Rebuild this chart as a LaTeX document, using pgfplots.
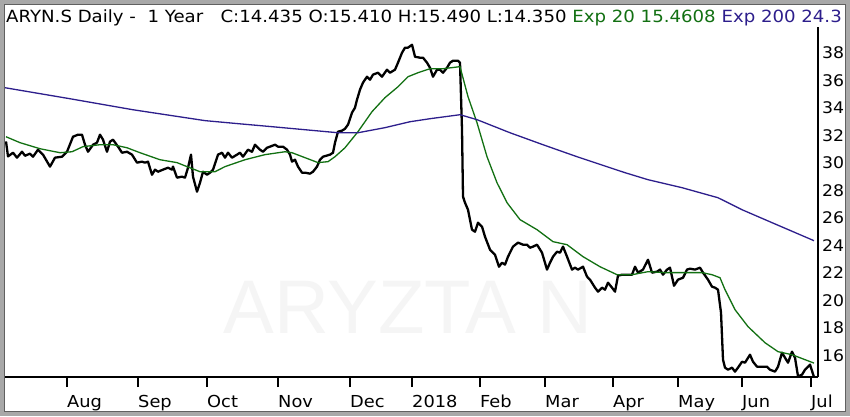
\documentclass[border=0pt]{standalone}
\usepackage{fontspec}
\setmainfont{DejaVu Sans}[FakeStretch=1.08]
\newfontfamily\wmfont{Liberation Sans}
\usepackage{pgfplots}
\pgfplotsset{compat=1.18}
\definecolor{emagreen}{RGB}{18,112,18}
\definecolor{emapurple}{RGB}{45,30,140}
\definecolor{framegray}{RGB}{168,168,168}
\definecolor{wm}{RGB}{245,245,245}
\begin{document}
\begin{tikzpicture}
\useasboundingbox (0,0) rectangle (850pt,416pt);
\fill[white] (0,0) rectangle (850pt,416pt);
\node[anchor=center, font=\wmfont\fontsize{76}{80}\selectfont, text=wm, inner sep=0pt] at (408pt,108.5pt) {ARYZTA N};
\begin{axis}[
  at={(5pt,39pt)}, anchor=south west,
  scale only axis, width=813pt, height=350pt,
  xmin=5, xmax=818, ymin=14.45, ymax=39.87,
  axis x line*=bottom, axis y line*=right,
  axis line style={line width=1.8pt, black},
  xtick={67,138,207,278,350,412,480,545,613,678,742,811},
  xticklabels={Aug,Sep,Oct,Nov,Dec,2018,Feb,Mar,Apr,May,Jun,Jul},
  xtick align=outside,
  major tick length=10pt,
  xtick style={line width=1.6pt, black},
  x tick label style={anchor=north west, inner sep=0pt, yshift=-8pt, font=\fontsize{16.5}{17}\selectfont},
  ytick={16,18,...,38},
  ytick style={draw=none},
  y tick label style={anchor=west, inner sep=0pt, xshift=4pt, font=\fontsize{16}{17}\selectfont},
  /pgf/number format/assume math mode=true,
  tick label style={black},
]
\addplot[black, line width=2.3pt, line join=round] coordinates {
(6,31.56) (8,30.47) (13,30.74) (17,30.38) (22,30.81) (25,30.52) (30,30.67) (33,30.45) (38,30.96) (43,30.60)
(50,29.73) (55,30.38) (62,30.45) (67,30.81) (73,31.90) (78,32.05) (82,32.05) (85,31.32) (88,30.81) (93,31.32)
(97,31.47) (100,32.05) (103,31.69) (107,30.81) (110,31.54) (113,31.69) (118,31.18) (122,30.74) (127,30.81) (132,30.60)
(137,30.02) (142,30.09) (145,30.02) (148,30.09) (152,29.14) (155,29.51) (158,29.36) (163,29.51) (168,29.65) (172,29.51)
(173,29.73) (177,28.93) (182,29.00) (185,28.93) (188,29.65) (191,30.60) (193,29.00) (197,27.91) (200,28.56) (203,29.36)
(207,29.14) (210,29.29) (213,29.51) (218,30.60) (222,30.74) (225,30.38) (228,30.74) (232,30.38) (237,30.60) (240,30.74)
(243,30.45) (248,30.96) (252,30.81) (255,31.32) (260,30.96) (263,30.81) (267,31.10) (270,31.18) (275,31.32) (278,31.18)
(283,31.18) (287,30.96) (290,30.60) (292,30.09) (295,30.23) (298,29.73) (302,29.29) (305,29.29) (310,29.22) (313,29.36)
(317,29.73) (320,30.23) (323,30.45) (330,30.60) (333,30.74) (335,31.47) (338,32.27) (342,32.34) (345,32.48) (348,32.78)
(352,33.65) (355,34.01) (357,34.59) (360,35.32) (363,35.83) (367,36.26) (370,36.04) (373,36.41) (378,36.55) (382,36.26)
(387,36.77) (390,36.55) (395,36.77) (398,37.28) (402,38.00) (405,38.37) (408,38.37) (412,38.58) (415,37.71) (420,37.64)
(423,37.64) (427,37.28) (430,36.91) (433,36.26) (437,36.77) (440,36.77) (443,36.55) (447,36.91) (450,37.28) (453,37.42)
(458,37.42) (460,37.28) (462,32.41) (463,27.55) (465,27.11) (468,26.60) (472,25.15) (475,25.00) (478,25.66) (482,25.37)
(485,24.64) (490,23.70) (495,23.33) (499,22.46) (502,22.75) (505,22.61) (508,23.19) (513,23.92) (518,24.21) (523,24.06)
(527,24.06) (530,23.84) (533,23.92) (537,24.06) (542,23.48) (547,22.25) (550,22.75) (553,23.19) (557,23.55) (560,23.48)
(563,23.92) (567,23.19) (572,22.25) (575,22.39) (578,22.25) (583,22.46) (587,21.74) (590,21.52) (595,20.94) (598,20.65)
(602,20.94) (605,20.79) (608,21.30) (612,20.94) (615,20.65) (618,21.81) (622,21.88) (632,21.88) (635,22.46) (638,22.03)
(643,22.25) (648,22.97) (652,22.03) (657,22.10) (660,22.25) (663,21.88) (667,22.25) (670,22.39) (674,21.08) (678,21.52)
(683,21.66) (687,22.25) (690,22.32) (695,22.25) (700,22.39) (703,22.03) (708,21.52) (712,21.01) (715,20.94) (718,20.79)
(721,19.12) (723,15.71) (725,15.13) (728,14.98) (732,15.13) (735,14.84) (738,15.13) (742,15.56) (745,15.49) (750,16.07)
(753,15.56) (757,15.20) (762,15.20) (767,15.20) (770,14.98) (775,14.84) (778,15.20) (782,16.22) (785,15.85) (788,15.49)
(792,16.29) (795,15.85) (798,14.50) (802,14.62) (805,14.98) (810,15.35) (814,14.44)
};
\addplot[emagreen, line width=1.3pt] coordinates {
(6,31.90) (20,31.47) (40,31.03) (60,30.74) (72,30.81) (83,31.18) (100,31.32) (113,31.32) (127,31.10) (140,30.74)
(160,30.23) (177,30.02) (187,29.73) (200,29.36) (215,29.36) (225,29.73) (245,30.23) (265,30.60) (285,30.81) (292,30.74)
(305,30.38) (318,30.02) (328,30.09) (335,30.45) (345,31.10) (358,32.27) (372,33.72) (385,34.74) (398,35.53) (408,36.26)
(418,36.55) (430,36.84) (443,36.84) (460,36.99) (468,34.81) (477,32.92) (487,30.45) (497,28.56) (507,27.11) (520,25.88)
(537,25.15) (553,24.28) (567,24.06) (583,23.19) (600,22.46) (617,21.88) (632,21.88) (648,22.10) (665,22.03) (682,22.03)
(702,22.03) (712,21.88) (720,21.66) (725,20.79) (735,19.34) (748,18.11) (765,16.94) (778,16.29) (792,16.07) (805,15.71)
(814,15.46)
};
\addplot[emapurple, line width=1.3pt] coordinates {
(5,35.46) (70,34.66) (133,33.86) (205,33.07) (238,32.85) (272,32.63) (305,32.41) (338,32.19) (358,32.19) (385,32.56)
(410,32.99) (430,33.21) (460,33.50) (477,33.14) (510,32.19) (543,31.32) (577,30.45) (610,29.65) (625,29.29) (648,28.78)
(682,28.20) (718,27.47) (742,26.60) (772,25.66) (814,24.35)
};
\end{axis}
\node[anchor=base west, inner sep=0pt, font=\fontsize{16.8}{18}\selectfont] at (6pt,393pt)
  {ARYN.S Daily -\ \ 1 Year\ \ \ C:14.435 O:15.410 H:15.490 L:14.350 \textcolor{emagreen}{Exp 20 15.4608} \textcolor{emapurple}{Exp 200 24.3}};
\draw[framegray, line width=4pt] (2pt,2pt) rectangle (848pt,414pt);
\draw[gray!75!black, line width=0.8pt] (4.4pt,4.4pt) rectangle (845.6pt,411.6pt);
\end{tikzpicture}
\end{document}
